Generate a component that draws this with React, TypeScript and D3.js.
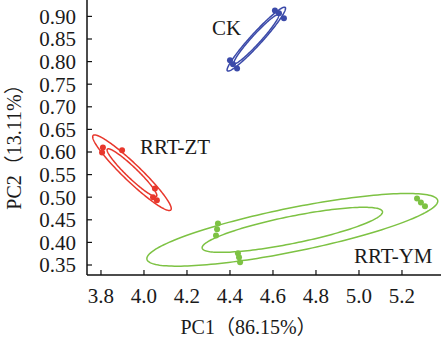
import React from "react";
import * as d3 from "d3";

const groups = ["CK", "RRT-ZT", "RRT-YM"];
const groupColors = ["#3b4aa9", "#e8372c", "#7dc243"];

const ckPC1 = [4.4, 4.414, 4.433, 4.609, 4.628, 4.651];
const ckPC2 = [0.803, 0.794, 0.785, 0.913, 0.907, 0.896];
const ztPC1 = [3.809, 3.805, 3.898, 4.051, 4.042, 4.06];
const ztPC2 = [0.61, 0.599, 0.604, 0.519, 0.5, 0.493];
const ymPC1 = [4.344, 4.335, 4.34, 4.437, 4.447, 4.442, 5.27, 5.288, 5.307];
const ymPC2 = [0.442, 0.4155, 0.429, 0.376, 0.356, 0.367, 0.497, 0.488, 0.48];

const groupPC1 = [ckPC1, ztPC1, ymPC1];
const groupPC2 = [ckPC2, ztPC2, ymPC2];
// ellipse scale factors (outer / inner) relative to sample covariance
const outerScale = [1.15, 1.5, 1.5];
const innerScale = [0.88, 0.95, 0.93];
// label anchors (data units)
const labelPC1 = [4.316, 3.981, 4.977];
const labelPC2 = [0.858, 0.595, 0.354];

const xTicks = [3.8, 4.0, 4.2, 4.4, 4.6, 4.8, 5.0, 5.2];
const yTicks = [0.35, 0.4, 0.45, 0.5, 0.55, 0.6, 0.65, 0.7, 0.75, 0.8, 0.85, 0.9];
const xTitle = "PC1（86.15%）";
const yTitle = "PC2（13.11%）";

const W = 441;
const H = 342;
const left = 87;
const bottom = 275;

const FONT = "'Liberation Serif', 'Times New Roman', 'Noto Sans CJK SC', serif";

function ellipsePoints(xs: number[], ys: number[], k: number) {
  const n = xs.length;
  const mx = d3.mean(xs) as number;
  const my = d3.mean(ys) as number;
  let sxx = 0, syy = 0, sxy = 0;
  for (let i = 0; i < n; i++) {
    sxx += (xs[i] - mx) ** 2;
    syy += (ys[i] - my) ** 2;
    sxy += (xs[i] - mx) * (ys[i] - my);
  }
  sxx /= n - 1; syy /= n - 1; sxy /= n - 1;
  const l11 = Math.sqrt(sxx);
  const l21 = sxy / l11;
  const l22 = Math.sqrt(Math.max(syy - l21 * l21, 0));
  const pts: [number, number][] = [];
  const N = 180;
  for (let i = 0; i < N; i++) {
    const t = (i / N) * Math.PI * 2;
    const a = Math.cos(t), b = Math.sin(t);
    pts.push([mx + k * l11 * a, my + k * (l21 * a + l22 * b)]);
  }
  return pts;
}

export default function App() {
  const x = d3.scaleLinear().domain([3.735, 3.735 + (W - left) / 215]).range([left, W]);
  const y = d3.scaleLinear().domain([0.35 - (bottom - 265) / 452, 0.35 + 265 / 452]).range([bottom, 0]);
  const line = d3
    .line<[number, number]>()
    .x((d) => x(d[0]))
    .y((d) => y(d[1]))
    .curve(d3.curveLinearClosed);

  return (
    <div style={{ position: "absolute", left: 0, top: 0 }}>
      <svg width={W} height={H} style={{ display: "block", background: "#fff" }}>
        <defs>
          <clipPath id="plot">
            <rect x={left} y={0} width={W - left} height={bottom} />
          </clipPath>
        </defs>
        <g clipPath="url(#plot)">
          {groups.map((g, gi) => (
            <g key={g} fill="none" stroke={groupColors[gi]} strokeWidth={1.5}>
              <path d={line(ellipsePoints(groupPC1[gi], groupPC2[gi], outerScale[gi])) || ""} />
              <path d={line(ellipsePoints(groupPC1[gi], groupPC2[gi], innerScale[gi])) || ""} />
            </g>
          ))}
          {groups.map((g, gi) =>
            groupPC1[gi].map((v, i) => (
              <circle key={g + i} cx={x(v)} cy={y(groupPC2[gi][i])} r={3} fill={groupColors[gi]} />
            ))
          )}
        </g>
        {groups.map((g, gi) => (
          <text key={g} x={x(labelPC1[gi])} y={y(labelPC2[gi])} fontFamily={FONT} fontSize={21} fill="#1a1a1a">
            {g}
          </text>
        ))}
        {/* axes */}
        <line x1={left} x2={left} y1={0} y2={bottom} stroke="#111" strokeWidth={1.5} />
        <line x1={left} x2={W} y1={bottom} y2={bottom} stroke="#111" strokeWidth={1.5} />
        {yTicks.map((t) => (
          <g key={"y" + t}>
            <line x1={left} x2={left + 5} y1={y(t)} y2={y(t)} stroke="#111" strokeWidth={1.2} />
            <text x={left - 11} y={y(t)} dy="0.35em" textAnchor="end" fontFamily={FONT} fontSize={21} fill="#1a1a1a">
              {t.toFixed(2)}
            </text>
          </g>
        ))}
        {xTicks.map((t) => (
          <g key={"x" + t}>
            <line x1={x(t)} x2={x(t)} y1={bottom} y2={bottom - 5} stroke="#111" strokeWidth={1.2} />
            <text x={x(t)} y={303} textAnchor="middle" fontFamily={FONT} fontSize={21} fill="#1a1a1a">
              {t.toFixed(1)}
            </text>
          </g>
        ))}
        <text x={248.5} y={334} textAnchor="middle" fontFamily={FONT} fontSize={20} fill="#1a1a1a">
          {xTitle}
        </text>
        <text
          transform={`translate(21,142) rotate(-90)`}
          textAnchor="middle"
          fontFamily={FONT}
          fontSize={20}
          fill="#1a1a1a"
        >
          {yTitle}
        </text>
      </svg>
    </div>
  );
}
